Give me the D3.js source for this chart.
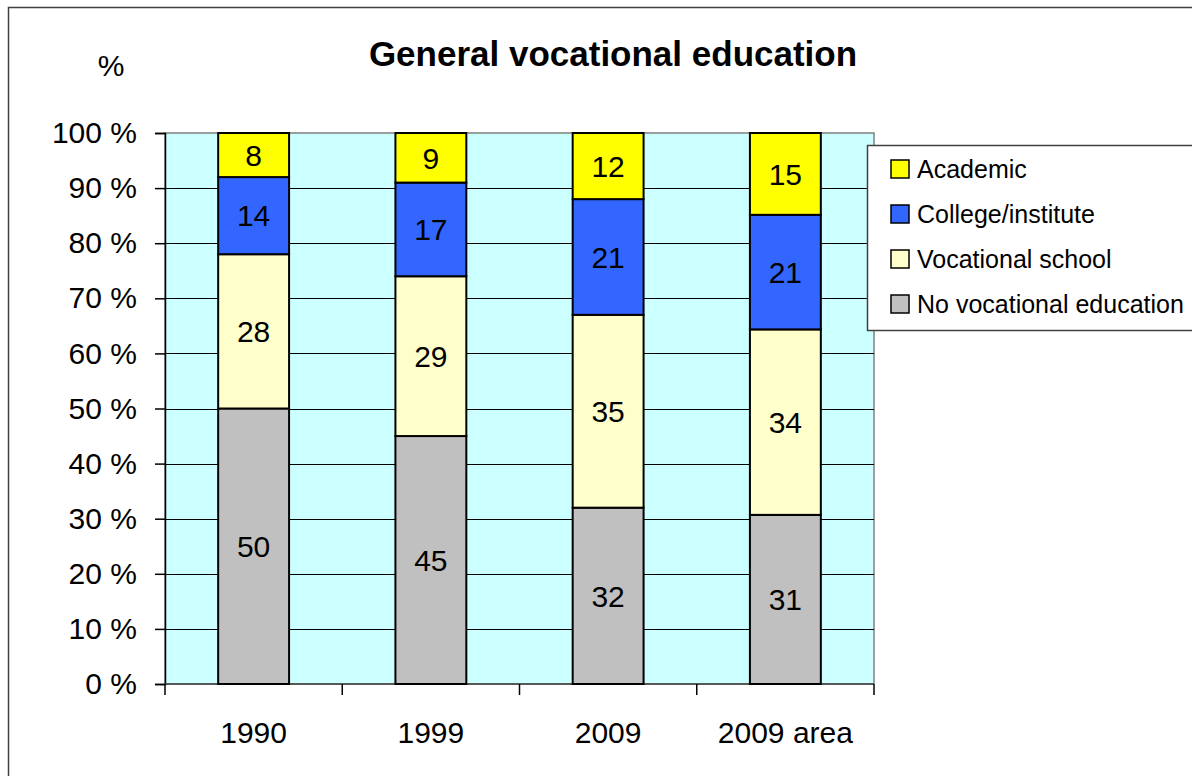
<!DOCTYPE html>
<html>
<head>
<meta charset="utf-8">
<script src="https://cdn.jsdelivr.net/npm/d3@7"></script>
<style>
	body { margin: 0; background: #fff; }
	svg { display: block; font-family: "Liberation Sans", Arial, sans-serif; }
</style>
</head>
<body>
<div id="visDiv"></div>
<script>
var categories = ['1990', '1999', '2009', '2009 area'];
var seriesNames = ['No vocational education', 'Vocational school', 'College/institute', 'Academic'];
var noVocational = [50, 45, 32, 31];
var vocationalSchool = [28, 29, 35, 34];
var college = [14, 17, 21, 21];
var academic = [8, 9, 12, 15];
var yTicks = [0, 10, 20, 30, 40, 50, 60, 70, 80, 90, 100];
var colors = ['#c0c0c0', '#ffffcc', '#3366ff', '#ffff00'];

(function () {
	var W = 1192, H = 776,
		margin = {top: 133, right: 318, bottom: 92, left: 165},
		w = W - margin.left - margin.right,
		h = H - margin.top - margin.bottom;

	// build rows for the stack
	var rows = categories.map(function (c, i) {
		return {
			cat: c,
			'No vocational education': noVocational[i],
			'Vocational school': vocationalSchool[i],
			'College/institute': college[i],
			'Academic': academic[i]
		};
	});

	var stack = d3.stack().keys(seriesNames).offset(d3.stackOffsetExpand);
	var layers = stack(rows);

	var svg = d3.select('#visDiv').append('svg')
		.attr('width', W)
		.attr('height', H);

	// outer chart frame
	svg.append('rect')
		.attr('x', 8.5).attr('y', 7.5)
		.attr('width', W + 20).attr('height', H + 20)
		.attr('fill', '#fff')
		.attr('stroke', '#404040')
		.attr('stroke-width', 1.5);

	var g = svg.append('g')
		.attr('transform', 'translate(' + margin.left + ',' + margin.top + ')');

	var x = d3.scaleBand()
		.domain(categories)
		.range([0, w])
		.paddingInner(0.6)
		.paddingOuter(0.3);

	var y = d3.scaleLinear()
		.domain([0, 100])
		.range([h, 0]);

	// plot area
	g.append('rect')
		.attr('width', w).attr('height', h)
		.attr('fill', '#ccffff')
		.attr('stroke', '#808080')
		.attr('stroke-width', 1.5);

	// gridlines
	g.selectAll('.grid')
		.data(yTicks.slice(1, -1))
		.enter().append('line')
		.attr('x1', 0).attr('x2', w)
		.attr('y1', function (d) { return Math.round(y(d)) + 0.5; })
		.attr('y2', function (d) { return Math.round(y(d)) + 0.5; })
		.attr('stroke', '#000')
		.attr('stroke-width', 1);

	// y axis
	var yAxis = g.append('g')
		.call(d3.axisLeft(y).tickValues(yTicks).tickSize(10).tickPadding(18)
			.tickFormat(function (d) { return d + ' %'; }));
	yAxis.select('.domain').attr('stroke', '#000').attr('stroke-width', 1.5);
	yAxis.selectAll('.tick line').attr('stroke', '#000').attr('stroke-width', 1.5);
	yAxis.selectAll('text')
		.attr('font-size', 30)
		.attr('fill', '#000')
		.attr('font-family', '"Liberation Sans", Arial, sans-serif');

	// x axis with ticks between categories
	var xAxisG = g.append('g').attr('transform', 'translate(0,' + h + ')');
	xAxisG.append('line')
		.attr('x1', 0).attr('x2', w)
		.attr('y1', 0).attr('y2', 0)
		.attr('stroke', '#404040').attr('stroke-width', 1.5);
	var step = x.step();
	xAxisG.selectAll('.xt')
		.data(d3.range(categories.length + 1))
		.enter().append('line')
		.attr('x1', function (d) { return d * step; })
		.attr('x2', function (d) { return d * step; })
		.attr('y1', 0).attr('y2', 11)
		.attr('stroke', '#000').attr('stroke-width', 1.5);
	xAxisG.selectAll('.xl')
		.data(categories)
		.enter().append('text')
		.attr('x', function (d) { return x(d) + x.bandwidth() / 2; })
		.attr('y', 59)
		.attr('text-anchor', 'middle')
		.attr('font-size', 30)
		.text(function (d) { return d; });

	// bars
	var layerG = g.selectAll('.layer')
		.data(layers)
		.enter().append('g')
		.attr('fill', function (d, i) { return colors[i]; });

	layerG.selectAll('rect')
		.data(function (d) { return d; })
		.enter().append('rect')
		.attr('x', function (d) { return x(d.data.cat); })
		.attr('y', function (d) { return y(d[1] * 100); })
		.attr('width', x.bandwidth())
		.attr('height', function (d) { return y(d[0] * 100) - y(d[1] * 100); })
		.attr('stroke', '#000')
		.attr('stroke-width', 2);

	layerG.selectAll('text')
		.data(function (d) { return d.map(function (p) { return {p: p, key: d.key}; }); })
		.enter().append('text')
		.attr('x', function (d) { return x(d.p.data.cat) + x.bandwidth() / 2; })
		.attr('y', function (d) { return y((d.p[0] + d.p[1]) / 2 * 100); })
		.attr('dy', '0.36em')
		.attr('text-anchor', 'middle')
		.attr('font-size', 30)
		.attr('fill', '#000')
		.text(function (d) { return d.p.data[d.key]; });

	// title and unit
	svg.append('text')
		.attr('x', 613).attr('y', 66)
		.attr('text-anchor', 'middle')
		.attr('font-size', 35)
		.attr('font-weight', 'bold')
		.text('General vocational education');

	svg.append('text')
		.attr('x', 111).attr('y', 76)
		.attr('text-anchor', 'middle')
		.attr('font-size', 30)
		.text('%');

	// legend
	var legend = svg.append('g').attr('transform', 'translate(867,145)');
	legend.append('rect')
		.attr('x', 0.5).attr('y', 0.5)
		.attr('width', 340).attr('height', 185)
		.attr('fill', '#fff')
		.attr('stroke', '#404040')
		.attr('stroke-width', 1.5);

	var legendOrder = seriesNames.slice().reverse();
	var items = legend.selectAll('.item')
		.data(legendOrder)
		.enter().append('g')
		.attr('transform', function (d, i) { return 'translate(24,' + (24 + i * 45) + ')'; });
	items.append('rect')
		.attr('x', 0).attr('y', -9)
		.attr('width', 18).attr('height', 18)
		.attr('fill', function (d) { return colors[seriesNames.indexOf(d)]; })
		.attr('stroke', '#000')
		.attr('stroke-width', 1.5);
	items.append('text')
		.attr('x', 26).attr('y', 0)
		.attr('dy', '0.36em')
		.attr('font-size', 25)
		.text(function (d) { return d; });
}());
</script>
</body>
</html>
